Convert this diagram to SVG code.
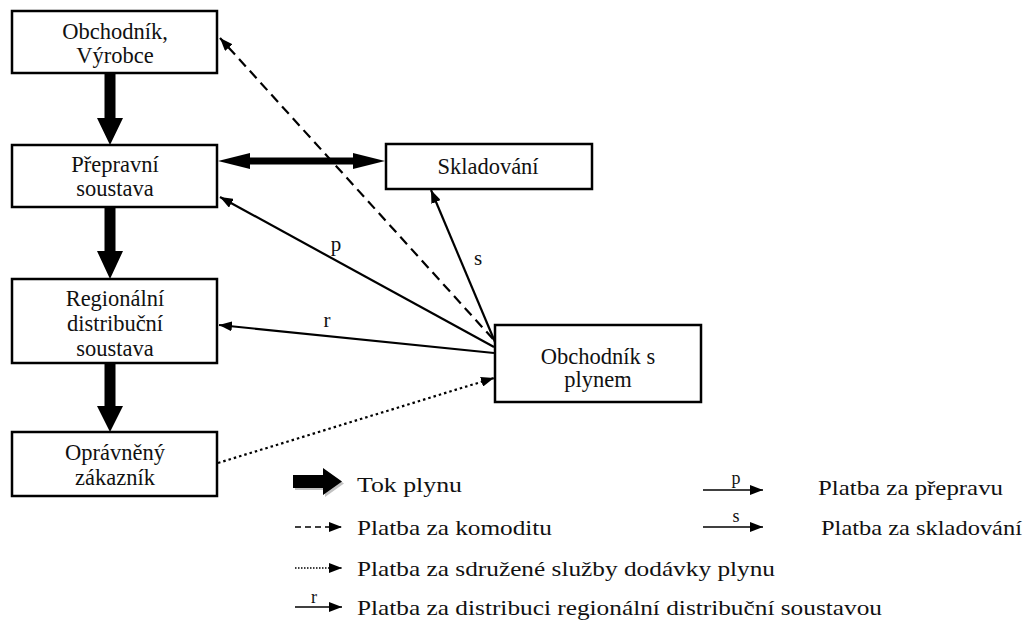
<svg xmlns="http://www.w3.org/2000/svg" width="1032" height="624" viewBox="0 0 1032 624">
<defs>
<style>
.box{fill:#fff;stroke:#000;stroke-width:2.5}
.t{font-family:'Liberation Serif','DejaVu Serif',serif;font-size:22.5px;fill:#111;text-anchor:middle}
.lg{font-family:'Liberation Serif','DejaVu Serif',serif;font-size:22px;fill:#111}
.lb{font-family:'Liberation Serif','DejaVu Serif',serif;font-size:21px;fill:#111;text-anchor:middle}
.ln{fill:none;stroke:#000;stroke-width:2.2}
.dash{stroke-dasharray:10 6}
.dot{stroke-dasharray:2.5 3}
.thick{fill:#000}
</style>
<marker id="ah" markerUnits="userSpaceOnUse" markerWidth="14" markerHeight="10" refX="13" refY="5" orient="auto">
<path d="M0,0 L13,5 L0,10 z" fill="#000"/>
</marker>
</defs>
<rect width="1032" height="624" fill="#fff"/>

<g id="connectors">
<path class="thick" d="M104.5,73 H115.5 V118 H123 L110,145 L97,118 H104.5 Z"/>
<path class="thick" d="M104.5,207 H115.5 V251 H123 L110,279 L97,251 H104.5 Z"/>
<path class="thick" d="M104.5,363 H115.5 V406 H123 L110,432 L97,406 H104.5 Z"/>
<path class="thick" d="M218,161 L250,153 V157.5 H353 V153 L385,161 L353,169 V164.5 H250 V169 Z"/>
<line class="ln dash" x1="493" y1="339" x2="220" y2="38" marker-end="url(#ah)"/>
<line class="ln" x1="494" y1="347" x2="220" y2="197" marker-end="url(#ah)"/>
<line class="ln" x1="494" y1="353" x2="219" y2="325" marker-end="url(#ah)"/>
<line class="ln" x1="495" y1="342" x2="431" y2="190" marker-end="url(#ah)"/>
<line class="ln dot" x1="218" y1="463" x2="494" y2="378" marker-end="url(#ah)"/>
<text class="lb" x="336" y="251" font-family="Liberation Serif, serif">p</text>
<text class="lb" x="478" y="265" font-family="Liberation Serif, serif">s</text>
<text class="lb" x="327" y="327" font-family="Liberation Serif, serif">r</text>
</g>

<g id="n1">
<rect class="box" x="12" y="11" width="205" height="62"/>
<text class="t" x="115" y="39">Obchodník,</text>
<text class="t" x="115" y="63">Výrobce</text>
</g>
<g id="n2">
<rect class="box" x="12" y="145" width="205" height="62"/>
<text class="t" x="115" y="172">Přepravní</text>
<text class="t" x="115" y="196">soustava</text>
</g>
<g id="n3">
<rect class="box" x="12" y="279" width="205" height="84"/>
<text class="t" x="115" y="306">Regionální</text>
<text class="t" x="115" y="331">distribuční</text>
<text class="t" x="115" y="356">soustava</text>
</g>
<g id="n4">
<rect class="box" x="12" y="432" width="205" height="64"/>
<text class="t" x="115" y="460">Oprávněný</text>
<text class="t" x="115" y="485">zákazník</text>
</g>
<g id="n5">
<rect class="box" x="386" y="144" width="206" height="45"/>
<text class="t" x="488" y="174">Skladování</text>
</g>
<g id="n6">
<rect class="box" x="495" y="325" width="206" height="77"/>
<text class="t" x="598" y="364">Obchodník s</text>
<text class="t" x="598" y="387">plynem</text>
</g>

<g id="legend">
<path d="M295,477 H325 V470 L344,483.5 L325,497 V490 H295 Z" fill="#999" opacity="0.6"/>
<path class="thick" d="M293,475 H323 V468 L342,481.5 L323,495 V488 H293 Z"/>
<text class="lg" x="357" y="492" textLength="105" lengthAdjust="spacingAndGlyphs">Tok plynu</text>
<line class="ln dash" x1="295" y1="527" x2="342" y2="527" style="stroke-dasharray:6 4;stroke-width:1.5" marker-end="url(#ah)"/>
<text class="lg" x="357" y="535" textLength="195" lengthAdjust="spacingAndGlyphs">Platba za komoditu</text>
<line class="ln dot" x1="295" y1="568" x2="342" y2="568" style="stroke-dasharray:1.5 1.5;stroke-width:1.5" marker-end="url(#ah)"/>
<text class="lg" x="357" y="576" textLength="418" lengthAdjust="spacingAndGlyphs">Platba za sdružené služby dodávky plynu</text>
<line class="ln" x1="295" y1="607" x2="342" y2="607" style="stroke-width:1.5" marker-end="url(#ah)"/>
<text class="lb" x="314" y="603" style="font-size:18px">r</text>
<text class="lg" x="357" y="615" textLength="525" lengthAdjust="spacingAndGlyphs">Platba za distribuci regionální distribuční soustavou</text>
<line class="ln" x1="703" y1="490" x2="763" y2="490" style="stroke-width:1.5" marker-end="url(#ah)"/>
<text class="lb" x="736" y="484" style="font-size:18px">p</text>
<text class="lg" x="818" y="495" textLength="185" lengthAdjust="spacingAndGlyphs">Platba za přepravu</text>
<line class="ln" x1="703" y1="527" x2="763" y2="527" style="stroke-width:1.5" marker-end="url(#ah)"/>
<text class="lb" x="736" y="522" style="font-size:18px">s</text>
<text class="lg" x="821" y="535" textLength="201" lengthAdjust="spacingAndGlyphs">Platba za skladování</text>
</g>
</svg>
